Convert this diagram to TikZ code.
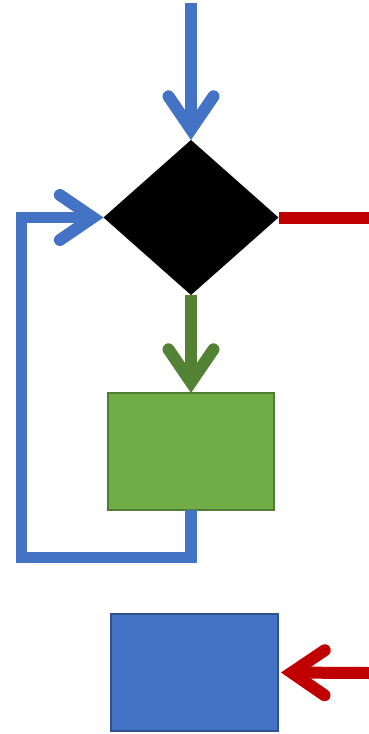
\documentclass[tikz,border=0pt]{standalone}
\usetikzlibrary{shapes.geometric,arrows.meta}
\definecolor{cblue}{HTML}{4472C4}
\definecolor{cblueedge}{HTML}{2F528F}
\definecolor{cgreen}{HTML}{70AD47}
\definecolor{cgreenedge}{HTML}{507E32}
\definecolor{cgreenline}{HTML}{548235}
\definecolor{cred}{HTML}{C00000}
\begin{document}
\begin{tikzpicture}[x=1pt,y=-1pt,
  chev/.style={-{Straight Barb[length=33pt,width=45pt,line width=12pt,line cap=round,line join=miter]}},
  thick line/.style={line width=12pt},
  box/.style={draw, line width=2pt, outer sep=0pt, minimum width=166pt, minimum height=117pt, inner sep=0pt, anchor=north west}]
\useasboundingbox (0,0) rectangle (369,734);
\node[diamond, fill=black, aspect=1.129, minimum width=175pt, minimum height=155pt, inner sep=0pt, outer sep=0pt] (dec) at (191,217.5) {};
\node[box, fill=cgreen, draw=cgreenedge] (proc) at (108,393) {};
\node[box, fill=cblue, draw=cblueedge, minimum width=167pt] (endbox) at (111,614) {};
\coordinate (start) at (191,3);
\coordinate (redout) at (369,217.5);
\coordinate (redin) at (369,673);
\coordinate (loopA) at (191,557.5);
\coordinate (loopB) at (21.5,557.5);
\coordinate (loopC) at (21.5,217.5);
\draw[thick line, cblue, chev] (start) -- (dec.north);
\draw[thick line, cred] (dec.east) -- (redout);
\draw[thick line, cgreenline, chev] (dec.south) -- (proc.north);
\draw[line width=11.5pt, cblue, line join=miter, chev] (proc.south) -- (loopA) -- (loopB) -- (loopC) -- (dec.west);
\draw[thick line, cred, chev, shorten >=3pt] (redin) -- (endbox.east);
\end{tikzpicture}
\end{document}
